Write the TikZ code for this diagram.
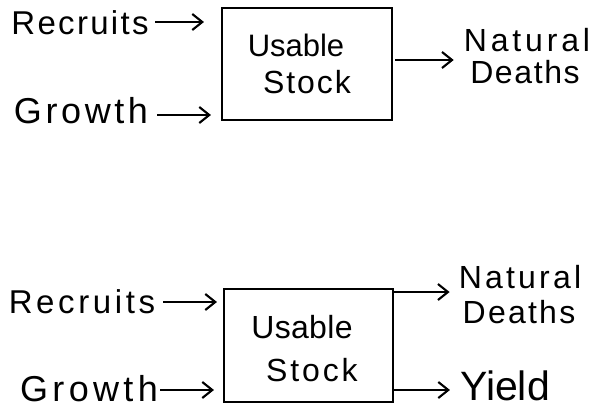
\documentclass[tikz,border=0pt]{standalone}
\usepackage{fontspec}
\setmainfont{Liberation Sans}
\usetikzlibrary{arrows.meta}
\newcommand{\hw}[2][32]{\fontsize{#1}{#1}\selectfont\addfontfeature{LetterSpace=#2}}
\tikzset{
  lbl/.style={inner sep=0pt, align=center},
  stockbox/.style={draw, line width=2.1pt, inner sep=0pt},
  arr/.style={line width=2.1pt, -{Straight Barb[length=10pt,width=16pt,line width=2.1pt]}}
}
\begin{document}
\begin{tikzpicture}[x=1pt,y=-1pt]
\path[use as bounding box, fill=white] (0,0) rectangle (598,408);
% ---- top diagram ----
\node[stockbox, minimum width=170pt, minimum height=112pt] (box1) at (307,64) {};
\node[lbl] (us1a) at (296,45) {\hw[31]{0}Usable};
\node[lbl] (us1b) at (307,82) {\hw[32]{6}Stock};
\node[lbl] (rec1) at (80,23) {\hw[33]{7}Recruits};
\node[lbl] (gro1) at (81,111) {\hw[36]{10}Growth};
\node[lbl] (nd1a) at (527,40) {\hw[32]{12}Natural};
\node[lbl] (nd1b) at (525,72) {\hw[32]{5}Deaths};
\coordinate (r1) at (155,22);
\coordinate (g1) at (157,115);
\coordinate (o1) at (392,60);
\draw[arr, shorten >=17pt] (r1) -- (r1 -| box1.west);
\draw[arr, shorten >=10pt] (g1) -- (g1 -| box1.west);
\draw[arr, shorten <=3pt, shorten >=10pt] (o1) -- (o1 -| nd1a.west);
% ---- bottom diagram ----
\node[stockbox, minimum width=169pt, minimum height=113pt] (box2) at (308.5,345.5) {};
\node[lbl] (us2a) at (302,327) {\hw[32]{1}Usable};
\node[lbl] (us2b) at (312,370) {\hw[32]{9}Stock};
\node[lbl] (rec2) at (82,302) {\hw[33]{11}Recruits};
\node[lbl] (gro2) at (89,389) {\hw[36]{12}Growth};
\node[lbl] (nd2a) at (520,277) {\hw[32]{10}Natural};
\node[lbl] (nd2b) at (519,312) {\hw[32]{7}Deaths};
\node[lbl] (yld) at (505,386) {\hw[41]{0}Yield};
\coordinate (r2) at (163,302);
\coordinate (g2) at (160,390);
\coordinate (o2) at (393,292);
\coordinate (o3) at (393,390);
\draw[arr, shorten >=6pt] (r2) -- (r2 -| box2.west);
\draw[arr, shorten >=9pt] (g2) -- (g2 -| box2.west);
\draw[arr, shorten >=9pt] (o2) -- (o2 -| nd2a.west);
\draw[arr, shorten >=10pt] (o3) -- (o3 -| yld.west);
\end{tikzpicture}
\end{document}
